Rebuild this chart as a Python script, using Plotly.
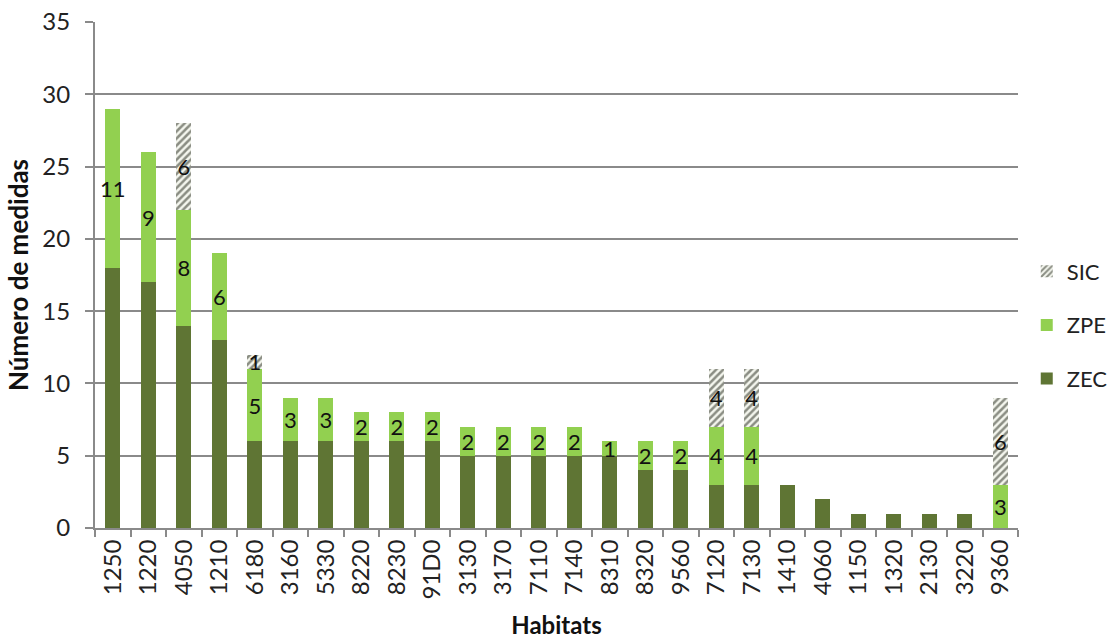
import plotly.graph_objects as go

# Habitat codes along the x axis
habitats = ["1250", "1220", "4050", "1210", "6180", "3160", "5330", "8220", "8230", "91D0",
            "3130", "3170", "7110", "7140", "8310", "8320", "9560", "7120", "7130", "1410",
            "4060", "1150", "1320", "2130", "3220", "9360"]

# Number of measures per designation type
zec = [18, 17, 14, 13, 6, 6, 6, 6, 6, 6, 5, 5, 5, 5, 5, 4, 4, 3, 3, 3, 2, 1, 1, 1, 1, 0]
zpe = [11, 9, 8, 6, 5, 3, 3, 2, 2, 2, 2, 2, 2, 2, 1, 2, 2, 4, 4, 0, 0, 0, 0, 0, 0, 3]
sic = [0, 0, 6, 0, 1, 0, 0, 0, 0, 0, 0, 0, 0, 0, 0, 0, 0, 4, 4, 0, 0, 0, 0, 0, 0, 6]

FONT = "Lato, 'Open Sans', sans-serif"
GRID = "#8a8a8a"


def labels(values):
    return [str(v) if v else "" for v in values]


fig = go.Figure()

fig.add_trace(go.Bar(
    x=habitats, y=zec, name="ZEC", legendgroup="zec", legendrank=3,
    marker=dict(color="#5f7534", line=dict(width=0)),
))
fig.add_trace(go.Bar(
    x=habitats, y=zpe, name="ZPE", legendgroup="zpe", legendrank=2,
    marker=dict(color="#92d050", line=dict(width=0)),
    text=labels(zpe), textposition="inside", textangle=0,
    insidetextanchor="middle", constraintext="none",
    insidetextfont=dict(family=FONT, size=22, color="#111111"),
))
fig.add_trace(go.Bar(
    x=habitats, y=sic, name="SIC", legendgroup="sic", legendrank=1,
    marker=dict(color="#f4f6ee", line=dict(width=0),
                pattern=dict(shape="/", fgcolor="#1f2417", bgcolor="#f4f6ee",
                             size=5, solidity=0.5)),
    text=labels(sic), textposition="inside", textangle=0,
    insidetextanchor="middle", constraintext="none",
    insidetextfont=dict(family=FONT, size=22, color="#111111"),
))

fig.update_layout(
    barmode="stack",
    bargap=0.58,
    width=1110, height=639,
    margin=dict(l=95, r=92, t=22, b=111, autoexpand=False),
    paper_bgcolor="white",
    plot_bgcolor="white",
    font=dict(family=FONT, size=22, color="#222222"),
    showlegend=True,
    legend=dict(
        traceorder="grouped", tracegroupgap=22,
        xref="container", yref="container",
        x=0.925, xanchor="left", y=(639 - 325) / 639, yanchor="middle",
        font=dict(family=FONT, size=22, color="#222222"),
        bgcolor="rgba(0,0,0,0)",
    ),
)

fig.update_xaxes(
    type="category", automargin=False,
    showline=True, linecolor=GRID, linewidth=2,
    ticks="outside", tickson="boundaries", ticklen=7, tickwidth=2, tickcolor=GRID,
    tickangle=-90,
    tickfont=dict(family=FONT, size=24, color="#222222"),
    showgrid=False,
    title=dict(text="<b>Habitats</b>", font=dict(family=FONT, size=24, color="#111111"),
               standoff=22),
)

fig.update_yaxes(
    range=[0, 35], dtick=5, automargin=False,
    showline=True, linecolor=GRID, linewidth=2,
    ticks="outside", ticklen=8, tickwidth=2, tickcolor=GRID,
    ticklabelstandoff=10,
    tickfont=dict(family=FONT, size=24, color="#222222"),
    showgrid=True, gridcolor=GRID, gridwidth=2,
    zeroline=False,
    title=dict(text="<b>Número de medidas</b>", font=dict(family=FONT, size=26, color="#111111"),
               standoff=6),
)

fig.write_html("out.html")
